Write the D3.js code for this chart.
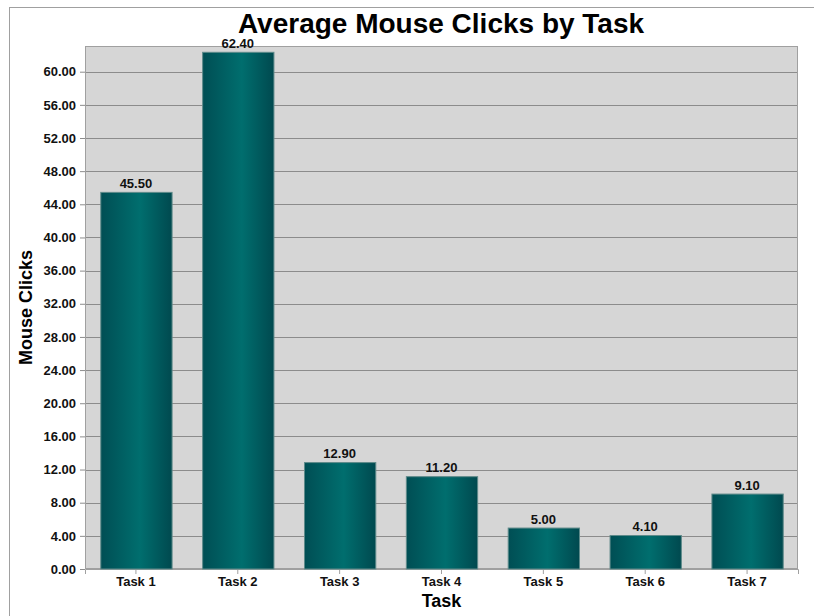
<!DOCTYPE html>
<html>
<head>
<meta charset="utf-8">
<script src="https://cdn.jsdelivr.net/npm/d3@7"></script>
<style>
  body { margin: 0; background: #fff; }
  svg { display: block; font-family: Arial, "Liberation Sans", sans-serif; }
</style>
</head>
<body>
<div id="chart"></div>
<script>
// donnees du graphique
var tasks = ["Task 1", "Task 2", "Task 3", "Task 4", "Task 5", "Task 6", "Task 7"];
var clicks = [45.50, 62.40, 12.90, 11.20, 5.00, 4.10, 9.10];
var yTicks = [0, 4, 8, 12, 16, 20, 24, 28, 32, 36, 40, 44, 48, 52, 56, 60];

var width = 814, height = 616;
var margin = {top: 46, right: 16, bottom: 47, left: 85};
var pw = width - margin.left - margin.right;
var ph = height - margin.top - margin.bottom;

var svg = d3.select("#chart").append("svg")
    .attr("width", width)
    .attr("height", height);

// cadre exterieur
svg.append("rect")
    .attr("x", 9.5).attr("y", 7.5)
    .attr("width", width).attr("height", height)
    .attr("fill", "none")
    .attr("stroke", "#a0a0a0");

// degrade des barres
var grad = svg.append("defs").append("linearGradient")
    .attr("id", "barGrad")
    .attr("x1", "0%").attr("x2", "100%").attr("y1", "0%").attr("y2", "0%");
grad.append("stop").attr("offset", "0%").attr("stop-color", "#004e54");
grad.append("stop").attr("offset", "55%").attr("stop-color", "#006e6e");
grad.append("stop").attr("offset", "100%").attr("stop-color", "#00494f");

var x = d3.scaleBand().domain(tasks).range([0, pw]).paddingInner(0.3).paddingOuter(0.15);
var y = d3.scaleLinear().domain([0, 63.1]).range([ph, 0]);

var g = svg.append("g")
    .attr("transform", "translate(" + margin.left + "," + margin.top + ")");

// fond de la zone de trace
g.append("rect")
    .attr("width", pw).attr("height", ph)
    .attr("fill", "#d6d6d6");

// lignes de grille
g.selectAll(".grid")
    .data(yTicks.filter(function(d) { return d > 0; }))
    .enter().append("line")
    .attr("x1", 0).attr("x2", pw)
    .attr("y1", function(d) { return Math.round(y(d)) + 0.5; })
    .attr("y2", function(d) { return Math.round(y(d)) + 0.5; })
    .attr("stroke", "#8c8c8c");

g.append("rect")
    .attr("x", 0.5).attr("y", 0.5)
    .attr("width", pw - 1).attr("height", ph - 1)
    .attr("fill", "none")
    .attr("stroke", "#a0a0a0");

// axe y
var yAxis = g.append("g")
    .call(d3.axisLeft(y).tickValues(yTicks).tickFormat(d3.format(".2f")).tickSize(5).tickPadding(4));
yAxis.select(".domain").remove();
yAxis.selectAll("line").attr("stroke", "#8c8c8c");
yAxis.selectAll("text")
    .attr("fill", "#111")
    .style("font-size", "13px")
    .style("font-weight", "bold");

// axe x
var xAxis = g.append("g")
    .attr("transform", "translate(0," + ph + ")")
    .call(d3.axisBottom(x).tickSize(5).tickPadding(3));
xAxis.select(".domain").attr("stroke", "#a0a0a0");
xAxis.selectAll("line").attr("stroke", "#a0a0a0");
xAxis.selectAll("text")
    .attr("fill", "#111")
    .style("font-size", "13px")
    .style("font-weight", "bold");

// barres
g.selectAll(".bar")
    .data(clicks)
    .enter().append("rect")
    .attr("class", "bar")
    .attr("x", function(d, i) { return x(tasks[i]) + 0.5; })
    .attr("y", function(d) { return y(d) + 0.5; })
    .attr("width", x.bandwidth())
    .attr("height", function(d) { return ph - y(d) - 0.5; })
    .attr("fill", "url(#barGrad)")
    .attr("stroke", "#5e8a8a");

// etiquettes de valeurs
g.selectAll(".val")
    .data(clicks)
    .enter().append("text")
    .attr("x", function(d, i) { return x(tasks[i]) + x.bandwidth() / 2; })
    .attr("y", function(d) { return y(d) - 4; })
    .attr("text-anchor", "middle")
    .attr("fill", "#111")
    .style("font-size", "13px")
    .style("font-weight", "bold")
    .text(function(d) { return d3.format(".2f")(d); });

// titres
svg.append("text")
    .attr("x", 441).attr("y", 33)
    .attr("text-anchor", "middle")
    .style("font-size", "28px")
    .style("font-weight", "bold")
    .text("Average Mouse Clicks by Task");

svg.append("text")
    .attr("x", margin.left + pw / 2).attr("y", 607)
    .attr("text-anchor", "middle")
    .style("font-size", "18px")
    .style("font-weight", "bold")
    .text("Task");

svg.append("text")
    .attr("transform", "translate(32," + (margin.top + ph / 2) + ") rotate(-90)")
    .attr("text-anchor", "middle")
    .style("font-size", "18px")
    .style("font-weight", "bold")
    .text("Mouse Clicks");
</script>
</body>
</html>
